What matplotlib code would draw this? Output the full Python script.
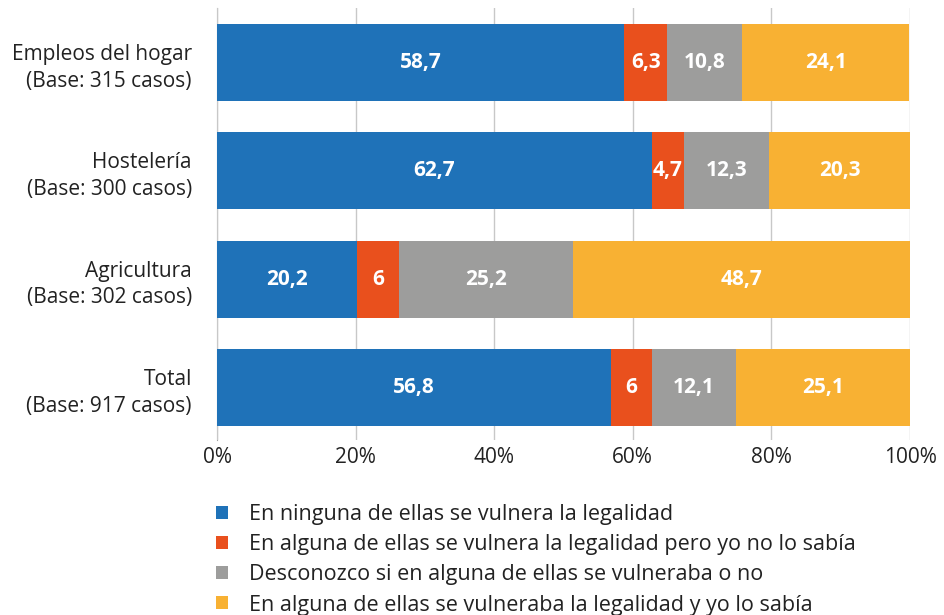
import matplotlib.pyplot as plt
import numpy as np

plt.rcParams['font.family'] = ['Open Sans', 'DejaVu Sans']

# datos
categorias = ['Empleos del hogar\n(Base: 315 casos)', 'Hostelería\n(Base: 300 casos)',
              'Agricultura\n(Base: 302 casos)', 'Total\n(Base: 917 casos)']
ninguna = [58.7, 62.7, 20.2, 56.8]
no_sabia = [6.3, 4.7, 6, 6]
desconozco = [10.8, 12.3, 25.2, 12.1]
si_sabia = [24.1, 20.3, 48.7, 25.1]
series = [ninguna, no_sabia, desconozco, si_sabia]
nombres = ['En ninguna de ellas se vulnera la legalidad',
           'En alguna de ellas se vulnera la legalidad pero yo no lo sabía',
           'Desconozco si en alguna de ellas se vulneraba o no',
           'En alguna de ellas se vulneraba la legalidad y yo lo sabía']
colores = ['#1f72b8', '#e9501d', '#9d9d9c', '#f8b133']

fig = plt.figure(figsize=(9.44, 6.15), dpi=100)
ax = fig.add_axes([217/944, 1-440/615, (910-217)/944, (440-8)/615])

y = np.arange(len(categorias))
izq = np.zeros(len(categorias))
barras = []
for vals, nom, col in zip(series, nombres, colores):
    b = ax.barh(y, vals, left=izq, height=0.71, color=col, label=nom, zorder=3)
    barras.append(b)
    for yi, l, v in zip(y, izq, vals):
        txt = str(v).replace('.', ',') if v != int(v) else str(int(v))
        ax.text(l + v/2, yi, txt, ha='center', va='center', color='white',
                fontsize=15, fontweight='bold', zorder=4)
    izq = izq + np.array(vals)

ax.set_xlim(0, 100)
ax.set_ylim(3.485, -0.503)
ax.set_xticks([0, 20, 40, 60, 80, 100])
ax.set_xticklabels(['0%', '20%', '40%', '60%', '80%', '100%'], fontsize=15, color='#222222')
ax.tick_params(length=0, pad=5)
ax.set_yticks(y)
ax.set_yticklabels(categorias, fontsize=15, color='#222222', linespacing=1.35)
ax.tick_params(axis='y', pad=18)
ax.grid(axis='x', color='#c8c8c8', lw=1, zorder=0)
for s in ['top', 'right', 'bottom']:
    ax.spines[s].set_visible(False)
ax.spines['left'].set_color('#a0a0a0')
ax.spines['left'].set_zorder(1)

fig.legend(handles=barras, labels=nombres, loc='upper left',
           bbox_to_anchor=(197/944, 1-485/615), frameon=False, fontsize=15.5,
           handlelength=0.55, handleheight=0.55, handletextpad=0.95,
           labelspacing=0.42, labelcolor='#222222')

fig.savefig('out.png', dpi=100)
